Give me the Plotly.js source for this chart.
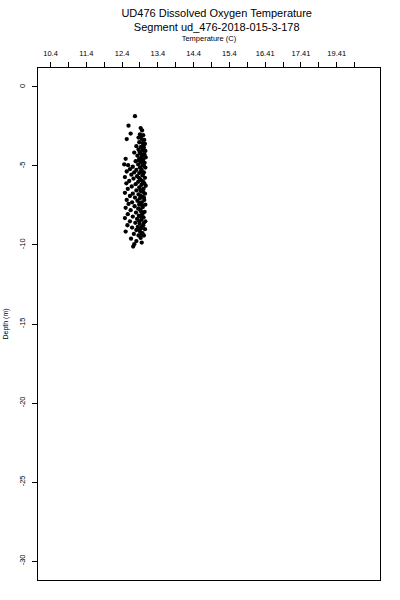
<!DOCTYPE html>
<html>
<head>
<meta charset="utf-8">
<script src="https://cdn.plot.ly/plotly-3.0.1.min.js"></script>
<style>html,body{margin:0;padding:0;background:#fff;}#chart{width:400px;height:600px;}</style>
</head>
<body>
<div id="chart"></div>
<script>
var temperature = [
12.76,12.58,12.92,12.96,12.64,12.90,12.99,12.53,12.86,12.95,13.02,12.88,12.97,13.04,12.80,12.93,13.01,12.86,12.98,13.05,
12.74,12.91,13.00,12.83,12.95,13.06,12.50,12.88,12.99,12.78,12.93,13.03,12.46,12.57,12.85,12.97,12.70,12.90,13.05,12.62,
12.80,12.95,12.53,12.74,13.01,12.88,12.66,12.97,12.82,12.48,13.04,12.72,12.91,12.60,12.85,12.99,12.52,12.78,12.94,13.06,
12.67,12.88,12.56,13.00,12.80,12.93,12.48,12.70,13.04,12.86,12.62,12.97,12.76,12.90,12.53,13.02,12.83,12.68,12.95,12.58,
12.88,13.05,12.75,12.98,12.50,12.85,12.64,12.92,13.03,12.79,12.56,12.96,12.87,12.70,13.00,12.48,12.82,12.94,12.62,13.05,
12.77,12.89,12.55,12.99,12.84,12.68,12.93,13.04,12.80,12.50,12.90,12.97,12.73,12.86,13.01,12.92,12.65,12.80,12.95,12.74,
12.71,12.92,13.00,12.89,13.03,12.94,12.87,13.01,12.93,12.99,12.87,12.96,13.02,12.91,12.99,12.92,13.01,12.89,12.96,12.91,
12.99,12.93,12.88,13.01,12.95,12.88,12.94
];
var depth = [
-1.85,-2.45,-2.6,-2.75,-2.95,-3.0,-3.05,-3.3,-3.2,-3.3,-3.35,-3.5,-3.55,-3.6,-3.75,-3.8,-3.85,-3.95,-4.0,-4.05,
-4.15,-4.2,-4.25,-4.35,-4.4,-4.45,-4.55,-4.55,-4.6,-4.7,-4.75,-4.8,-4.9,-4.95,-4.9,-4.95,-5.05,-5.1,-5.1,-5.2,
-5.25,-5.25,-5.35,-5.4,-5.4,-5.45,-5.55,-5.6,-5.65,-5.7,-5.75,-5.8,-5.85,-5.95,-6.0,-6.0,-6.1,-6.15,-6.2,-6.25,
-6.3,-6.35,-6.45,-6.45,-6.55,-6.6,-6.7,-6.75,-6.75,-6.8,-6.9,-6.95,-7.0,-7.05,-7.15,-7.15,-7.2,-7.3,-7.3,-7.4,
-7.45,-7.45,-7.55,-7.6,-7.65,-7.7,-7.8,-7.85,-7.9,-7.95,-8.05,-8.05,-8.15,-8.2,-8.25,-8.3,-8.35,-8.4,-8.5,-8.5,
-8.6,-8.65,-8.75,-8.75,-8.85,-8.9,-8.95,-9.0,-9.05,-9.15,-9.15,-9.25,-9.3,-9.4,-9.4,-9.55,-9.6,-9.75,-9.85,-9.95,
-10.1,-3.15,-3.7,-4.1,-4.3,-4.5,-4.65,-5.0,-5.35,-5.5,-5.75,-5.95,-6.1,-6.5,-6.65,-6.9,-7.0,-7.35,-7.5,-7.75,
-7.95,-8.2,-8.5,-8.6,-8.85,-9.0,-9.3
];
var xTickVals = [10.4,10.9,11.4,11.9,12.4,12.9,13.4,13.9,14.4,14.9,15.4,15.9,16.4,16.9,17.4,17.9,18.4,18.9];
var xTickText = ['10.4','','11.4','','12.4','','13.4','','14.4','','15.4','','16.41','','17.41','','19.41',''];
var yTickVals = [0,-5,-10,-15,-20,-25,-30];
var yTickText = ['0','-5','-10','-15','-20','-25','-30'];

var font = 'Liberation Sans, Arial, Helvetica, sans-serif';
var trace = {
  x: temperature, y: depth, type: 'scatter', mode: 'markers',
  marker: {color: '#000', size: 4.3, line: {width: 0}},
  hoverinfo: 'none'
};
var layout = {
  width: 400, height: 600,
  margin: {l: 38, r: 20, t: 68, b: 20},
  paper_bgcolor: '#fff', plot_bgcolor: '#fff',
  showlegend: false,
  font: {family: font, color: 'black'},
  title: {
    text: 'UD476 Dissolved Oxygen Temperature<br>Segment ud_476-2018-015-3-178',
    font: {family: font, size: 11, color: 'black'},
    x: 0.5225, xanchor: 'center', xref: 'paper',
    y: 0.972, yanchor: 'top', yref: 'container'
  },
  xaxis: {
    side: 'top', range: [10.05, 19.61], autorange: false,
    tickmode: 'array', tickvals: xTickVals, ticktext: xTickText,
    ticks: 'outside', ticklen: 5, tickwidth: 1, tickcolor: 'black',
    ticklabelstandoff: 3,
    showline: true, mirror: true, linecolor: 'black', linewidth: 1,
    showgrid: false, zeroline: false,
    tickfont: {family: font, size: 7.5, color: 'black'},
    title: {text: 'Temperature (C)', font: {family: font, size: 7.5, color: 'black'}, standoff: 6},
    automargin: false
  },
  yaxis: {
    range: [-31.2, 1.2], autorange: false,
    tickmode: 'array', tickvals: yTickVals, ticktext: yTickText,
    tickangle: -90,
    ticks: 'outside', ticklen: 5, tickwidth: 1, tickcolor: 'black',
    ticklabelstandoff: 4,
    showline: true, mirror: true, linecolor: 'black', linewidth: 1,
    showgrid: false, zeroline: false,
    tickfont: {family: font, size: 7.5, color: 'black'},
    title: {text: 'Depth (m)', font: {family: font, size: 7, color: 'black'}, standoff: 8},
    automargin: false
  }
};
Plotly.newPlot('chart', [trace], layout, {staticPlot: true, displayModeBar: false});
</script>
</body>
</html>
